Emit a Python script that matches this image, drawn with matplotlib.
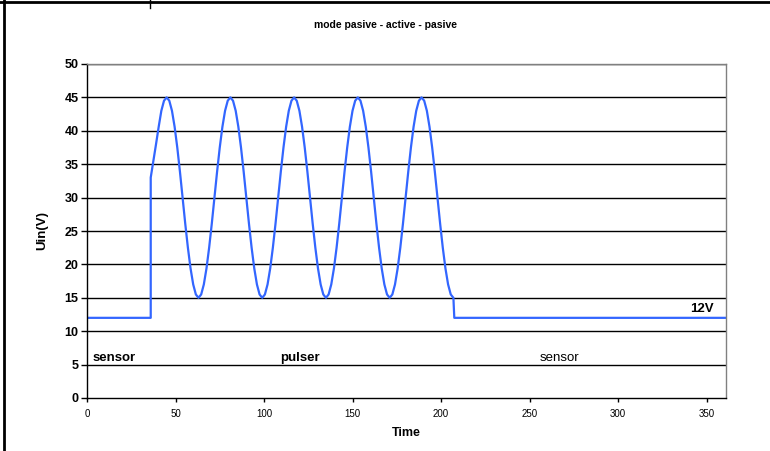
import matplotlib
matplotlib.use("Agg")
import matplotlib.pyplot as plt
from matplotlib.lines import Line2D
import numpy as np

plt.rcParams['font.family'] = ['Liberation Sans', 'DejaVu Sans']

# sensor phase before the pulses, then the rising edge
time_start = [0, 36, 36, 37.5, 39, 40.5, 42, 43.5]
uin_start = [12, 12, 33, 35.5, 38, 40.6, 43, 44.5]

# pulser phase, read every 1.5 time units from t=45 to t=207
time_pulse = list(np.arange(45, 207.1, 1.5))
uin_pulse = [
    45, 44.5, 43, 40.6, 37.5, 33.9, 30, 26.1, 22.5, 19.4, 17, 15.5,
    15, 15.5, 17, 19.4, 22.5, 26.1, 30, 33.9, 37.5, 40.6, 43, 44.5,
    45, 44.5, 43, 40.6, 37.5, 33.9, 30, 26.1, 22.5, 19.4, 17, 15.5,
    15, 15.5, 17, 19.4, 22.5, 26.1, 30, 33.9, 37.5, 40.6, 43, 44.5,
    45, 44.5, 43, 40.6, 37.5, 33.9, 30, 26.1, 22.5, 19.4, 17, 15.5,
    15, 15.5, 17, 19.4, 22.5, 26.1, 30, 33.9, 37.5, 40.6, 43, 44.5,
    45, 44.5, 43, 40.6, 37.5, 33.9, 30, 26.1, 22.5, 19.4, 17, 15.5,
    15, 15.5, 17, 19.4, 22.5, 26.1, 30, 33.9, 37.5, 40.6, 43, 44.5,
    45, 44.5, 43, 40.6, 37.5, 33.9, 30, 26.1, 22.5, 19.4, 17, 15.5,
    15,
]

# back to sensor mode at 12V
time_end = [207.5, 361]
uin_end = [12, 12]

time = time_start + time_pulse + time_end
uin = uin_start + uin_pulse + uin_end

y_ticks = list(range(0, 51, 5))
x_ticks = list(range(0, 351, 50))

fig = plt.figure(figsize=(7.7, 4.51), dpi=100)
ax = fig.add_axes([87 / 770, 1 - 398 / 451, (726 - 87) / 770, (398 - 64) / 451])

ax.plot(time, uin, color='#3366ff', lw=1.6)

ax.set_xlim(0, 361)
ax.set_ylim(0, 50)
ax.set_yticks(y_ticks)
ax.set_xticks(x_ticks)
for y in y_ticks[1:]:
    ax.axhline(y, color='black', lw=1, zorder=0)

for lab in ax.get_yticklabels():
    lab.set_fontweight('bold')
ax.tick_params(axis='y', labelsize=9, length=4, width=1, direction='out', pad=2)
ax.tick_params(axis='x', labelsize=7, length=3, width=1, direction='out', pad=5)

ax.spines['left'].set_color('black')
ax.spines['bottom'].set_color('black')
ax.spines['top'].set_color('#808080')
ax.spines['right'].set_color('#808080')
for s in ax.spines.values():
    s.set_linewidth(1)

ax.set_ylabel('Uin(V)', fontsize=9.5, fontweight='bold', labelpad=12)
ax.set_xlabel('Time', fontsize=9, fontweight='bold', labelpad=6)

ax.text(3, 6, 'sensor', fontsize=9.5, fontweight='bold', va='center', ha='left')
ax.text(109, 6, 'pulser', fontsize=9.5, fontweight='bold', va='center', ha='left')
ax.text(256, 6, 'sensor', fontsize=9.5, va='center', ha='left')
ax.text(354, 13.3, '12V', fontsize=9.5, fontweight='bold', va='center', ha='right')

fig.text(385 / 770, 1 - 25 / 451, 'mode pasive - active - pasive', fontsize=7.5,
         fontweight='bold', ha='center', va='center')

# frame pieces around the chart
fig.add_artist(Line2D([0, 1], [1 - 1.5 / 451, 1 - 1.5 / 451], color='black', lw=2))
fig.add_artist(Line2D([4 / 770, 4 / 770], [0, 1], color='black', lw=2))
fig.add_artist(Line2D([150 / 770, 150 / 770], [1, 1 - 8 / 451], color='black', lw=1))

fig.savefig('out.png', dpi=100)
